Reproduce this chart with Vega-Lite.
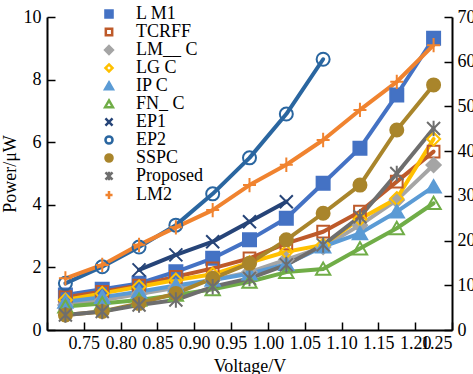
{
  "$schema": "https://vega.github.io/schema/vega-lite/v6.json",
  "width": 405,
  "height": 313,
  "autosize": "none",
  "padding": {"left": 47, "top": 17, "right": 21, "bottom": 44},
  "background": "white",
  "config": {
    "font": "Liberation Serif",
    "view": {"stroke": null},
    "axis": {
      "grid": false,
      "domainColor": "black",
      "domainWidth": 2,
      "tickColor": "black",
      "tickWidth": 1.5,
      "labelColor": "black",
      "titleColor": "black",
      "labelFont": "Liberation Serif",
      "titleFont": "Liberation Serif",
      "labelFontSize": 18,
      "titleFontSize": 18,
      "titleFontWeight": "normal"
    }
  },
  "data": {
    "values": [
      {"s": "L M1", "v": 0.725, "p": 1.12}, {"s": "L M1", "v": 0.775, "p": 1.30}, {"s": "L M1", "v": 0.825, "p": 1.49}, {"s": "L M1", "v": 0.875, "p": 1.86}, {"s": "L M1", "v": 0.925, "p": 2.29}, {"s": "L M1", "v": 0.975, "p": 2.88}, {"s": "L M1", "v": 1.025, "p": 3.57}, {"s": "L M1", "v": 1.075, "p": 4.69}, {"s": "L M1", "v": 1.125, "p": 5.81}, {"s": "L M1", "v": 1.175, "p": 7.51}, {"s": "L M1", "v": 1.225, "p": 9.32},
      {"s": "TCRFF", "v": 0.725, "p": 1.05}, {"s": "TCRFF", "v": 0.775, "p": 1.22}, {"s": "TCRFF", "v": 0.825, "p": 1.42}, {"s": "TCRFF", "v": 0.875, "p": 1.70}, {"s": "TCRFF", "v": 0.925, "p": 1.97}, {"s": "TCRFF", "v": 0.975, "p": 2.29}, {"s": "TCRFF", "v": 1.025, "p": 2.77}, {"s": "TCRFF", "v": 1.075, "p": 3.14}, {"s": "TCRFF", "v": 1.125, "p": 3.78}, {"s": "TCRFF", "v": 1.175, "p": 4.74}, {"s": "TCRFF", "v": 1.225, "p": 5.70},
      {"s": "LM__ C", "v": 0.725, "p": 0.80}, {"s": "LM__ C", "v": 0.775, "p": 0.95}, {"s": "LM__ C", "v": 0.825, "p": 1.15}, {"s": "LM__ C", "v": 0.875, "p": 1.35}, {"s": "LM__ C", "v": 0.925, "p": 1.60}, {"s": "LM__ C", "v": 0.975, "p": 1.85}, {"s": "LM__ C", "v": 1.025, "p": 2.25}, {"s": "LM__ C", "v": 1.075, "p": 2.65}, {"s": "LM__ C", "v": 1.125, "p": 3.35}, {"s": "LM__ C", "v": 1.175, "p": 4.15}, {"s": "LM__ C", "v": 1.225, "p": 5.27},
      {"s": "LG C", "v": 0.725, "p": 0.96}, {"s": "LG C", "v": 0.775, "p": 1.17}, {"s": "LG C", "v": 0.825, "p": 1.38}, {"s": "LG C", "v": 0.875, "p": 1.60}, {"s": "LG C", "v": 0.925, "p": 1.78}, {"s": "LG C", "v": 0.975, "p": 2.15}, {"s": "LG C", "v": 1.025, "p": 2.50}, {"s": "LG C", "v": 1.075, "p": 2.72}, {"s": "LG C", "v": 1.125, "p": 3.55}, {"s": "LG C", "v": 1.175, "p": 4.20}, {"s": "LG C", "v": 1.225, "p": 6.10},
      {"s": "IP C", "v": 0.725, "p": 0.90}, {"s": "IP C", "v": 0.775, "p": 1.05}, {"s": "IP C", "v": 0.825, "p": 1.22}, {"s": "IP C", "v": 0.875, "p": 1.42}, {"s": "IP C", "v": 0.925, "p": 1.60}, {"s": "IP C", "v": 0.975, "p": 1.80}, {"s": "IP C", "v": 1.025, "p": 2.10}, {"s": "IP C", "v": 1.075, "p": 2.66}, {"s": "IP C", "v": 1.125, "p": 3.09}, {"s": "IP C", "v": 1.175, "p": 3.78}, {"s": "IP C", "v": 1.225, "p": 4.58},
      {"s": "FN_ C", "v": 0.725, "p": 0.75}, {"s": "FN_ C", "v": 0.775, "p": 0.85}, {"s": "FN_ C", "v": 0.825, "p": 0.96}, {"s": "FN_ C", "v": 0.875, "p": 1.12}, {"s": "FN_ C", "v": 0.925, "p": 1.30}, {"s": "FN_ C", "v": 0.975, "p": 1.54}, {"s": "FN_ C", "v": 1.025, "p": 1.85}, {"s": "FN_ C", "v": 1.075, "p": 1.95}, {"s": "FN_ C", "v": 1.125, "p": 2.60}, {"s": "FN_ C", "v": 1.175, "p": 3.25}, {"s": "FN_ C", "v": 1.225, "p": 4.05},
      {"s": "EP1", "v": 0.825, "p": 1.92}, {"s": "EP1", "v": 0.875, "p": 2.40}, {"s": "EP1", "v": 0.925, "p": 2.82}, {"s": "EP1", "v": 0.975, "p": 3.46}, {"s": "EP1", "v": 1.025, "p": 4.10},
      {"s": "EP2", "v": 0.725, "p": 1.49}, {"s": "EP2", "v": 0.775, "p": 2.02}, {"s": "EP2", "v": 0.825, "p": 2.65}, {"s": "EP2", "v": 0.875, "p": 3.35}, {"s": "EP2", "v": 0.925, "p": 4.35}, {"s": "EP2", "v": 0.975, "p": 5.50}, {"s": "EP2", "v": 1.025, "p": 6.90}, {"s": "EP2", "v": 1.075, "p": 8.65},
      {"s": "SSPC", "v": 0.725, "p": 0.48}, {"s": "SSPC", "v": 0.775, "p": 0.59}, {"s": "SSPC", "v": 0.825, "p": 0.85}, {"s": "SSPC", "v": 0.875, "p": 1.17}, {"s": "SSPC", "v": 0.925, "p": 1.65}, {"s": "SSPC", "v": 0.975, "p": 2.13}, {"s": "SSPC", "v": 1.025, "p": 2.88}, {"s": "SSPC", "v": 1.075, "p": 3.73}, {"s": "SSPC", "v": 1.125, "p": 4.63}, {"s": "SSPC", "v": 1.175, "p": 6.39}, {"s": "SSPC", "v": 1.225, "p": 7.83},
      {"s": "Proposed", "v": 0.725, "p": 0.48}, {"s": "Proposed", "v": 0.775, "p": 0.59}, {"s": "Proposed", "v": 0.825, "p": 0.80}, {"s": "Proposed", "v": 0.875, "p": 0.96}, {"s": "Proposed", "v": 0.925, "p": 1.38}, {"s": "Proposed", "v": 0.975, "p": 1.65}, {"s": "Proposed", "v": 1.025, "p": 2.08}, {"s": "Proposed", "v": 1.075, "p": 2.72}, {"s": "Proposed", "v": 1.125, "p": 3.62}, {"s": "Proposed", "v": 1.175, "p": 5.00}, {"s": "Proposed", "v": 1.225, "p": 6.44},
      {"s": "LM2", "v": 0.725, "p": 1.65}, {"s": "LM2", "v": 0.775, "p": 2.08}, {"s": "LM2", "v": 0.825, "p": 2.72}, {"s": "LM2", "v": 0.875, "p": 3.28}, {"s": "LM2", "v": 0.925, "p": 3.83}, {"s": "LM2", "v": 0.975, "p": 4.63}, {"s": "LM2", "v": 1.025, "p": 5.28}, {"s": "LM2", "v": 1.075, "p": 6.07}, {"s": "LM2", "v": 1.125, "p": 7.03}, {"s": "LM2", "v": 1.175, "p": 7.93}, {"s": "LM2", "v": 1.225, "p": 9.10}
    ]
  },
  "layer": [
    {
      "mark": {"type": "line", "strokeWidth": 4, "strokeCap": "round", "strokeJoin": "round"},
      "encoding": {
        "x": {"field": "v", "type": "quantitative", "scale": {"domain": [0.7, 1.25], "nice": false},
          "axis": {"title": "Voltage/V", "values": [0.7, 0.75, 0.8, 0.85, 0.9, 0.95, 1.0, 1.05, 1.1, 1.15, 1.2, 1.25],
            "labelExpr": "datum.value < 0.72 ? '' : format(datum.value, '.2f')", "tickSize": -8, "labelPadding": 12, "titlePadding": 5, "labelOverlap": false, "labelBound": false}},
        "y": {"field": "p", "type": "quantitative", "scale": {"domain": [0, 10], "nice": false},
          "axis": {"orient": "left", "title": "Power/μW", "values": [0, 2, 4, 6, 8, 10], "tickSize": -8, "labelPadding": 14, "titlePadding": 4}},
        "color": {"field": "s", "type": "nominal",
          "scale": {"domain": ["L M1", "TCRFF", "LM__ C", "LG C", "IP C", "FN_ C", "EP1", "EP2", "SSPC", "Proposed", "LM2"],
            "range": ["#4472C4", "#BE5A2A", "#A5A5A5", "#FFC000", "#5B9BD5", "#70AD47", "#264478", "#2A66A0", "#A9852B", "#6E6E6E", "#F0832F"]},
          "legend": {"orient": "none", "legendX": 53, "legendY": -12, "padding": 0, "title": null,
            "labelFontSize": 18, "labelFont": "Liberation Serif", "labelColor": "black",
            "symbolType": "stroke", "symbolStrokeWidth": 2.5, "symbolSize": 200, "labelOffset": 18, "rowPadding": -1}}
      }
    },
    {
      "mark": {"type": "point", "size": 676, "strokeWidth": 2, "opacity": 1},
      "encoding": {
        "x": {"field": "v", "type": "quantitative", "scale": {"domain": [0.7, 1.25], "nice": false},
          "axis": {"title": "Voltage/V", "values": [0.7, 0.75, 0.8, 0.85, 0.9, 0.95, 1.0, 1.05, 1.1, 1.15, 1.2, 1.25],
            "labelExpr": "datum.value < 0.72 ? '' : format(datum.value, '.2f')", "tickSize": -8, "labelPadding": 12, "titlePadding": 5, "labelOverlap": false, "labelBound": false}},
        "y": {"field": "p", "type": "quantitative", "scale": {"domain": [0, 10], "nice": false}, "axis": null},
        "stroke": {"field": "s", "type": "nominal", "legend": null,
          "scale": {"domain": ["L M1", "TCRFF", "LM__ C", "LG C", "IP C", "FN_ C", "EP1", "EP2", "SSPC", "Proposed", "LM2"],
            "range": ["#4472C4", "#BE5A2A", "#A5A5A5", "#FFC000", "#5B9BD5", "#70AD47", "#264478", "#2A66A0", "#A9852B", "#6E6E6E", "#F0832F"]}},
        "fill": {"field": "s", "type": "nominal", "legend": null,
          "scale": {"domain": ["L M1", "TCRFF", "LM__ C", "LG C", "IP C", "FN_ C", "EP1", "EP2", "SSPC", "Proposed", "LM2"],
            "range": ["#4472C4", "transparent", "#A5A5A5", "transparent", "#5B9BD5", "transparent", "transparent", "transparent", "#A9852B", "transparent", "transparent"]}},
        "shape": {"field": "s", "type": "nominal", "legend": null,
          "scale": {"domain": ["L M1", "TCRFF", "LM__ C", "LG C", "IP C", "FN_ C", "EP1", "EP2", "SSPC", "Proposed", "LM2"],
            "range": [
              "M-0.5,-0.5H0.5V0.5H-0.5Z",
              "M-0.45,-0.45H0.45V0.45H-0.45Z",
              "M0,-0.55L0.55,0L0,0.55L-0.55,0Z",
              "M0,-0.5L0.5,0L0,0.5L-0.5,0Z",
              "M0,-0.5L0.55,0.45H-0.55Z",
              "M0,-0.5L0.55,0.45H-0.55Z",
              "M-0.5,-0.5L0.5,0.5M-0.5,0.5L0.5,-0.5",
              "M-0.5,0A0.5,0.5,0,1,0,0.5,0A0.5,0.5,0,1,0,-0.5,0Z",
              "M-0.5,0A0.5,0.5,0,1,0,0.5,0A0.5,0.5,0,1,0,-0.5,0Z",
              "M-0.5,-0.5L0.5,0.5M-0.5,0.5L0.5,-0.5M0,-0.6V0.6",
              "M-0.5,0H0.5M0,-0.55V0.55"
            ]}}
      }
    },
    {
      "mark": {"type": "point", "opacity": 0},
      "encoding": {
        "x": {"field": "v", "type": "quantitative", "scale": {"domain": [0.7, 1.25], "nice": false},
          "axis": {"title": "Voltage/V", "values": [0.7, 0.75, 0.8, 0.85, 0.9, 0.95, 1.0, 1.05, 1.1, 1.15, 1.2, 1.25],
            "labelExpr": "datum.value < 0.72 ? '' : format(datum.value, '.2f')", "tickSize": -8, "labelPadding": 12, "titlePadding": 5, "labelOverlap": false, "labelBound": false}},
        "y": {"field": "p", "type": "quantitative", "scale": {"domain": [0, 70], "nice": false},
          "axis": {"orient": "right", "title": null, "values": [0, 10, 20, 30, 40, 50, 60, 70], "tickSize": -8, "labelPadding": 13}}
      }
    }
  ],
  "resolve": {"scale": {"y": "independent"}}
}
